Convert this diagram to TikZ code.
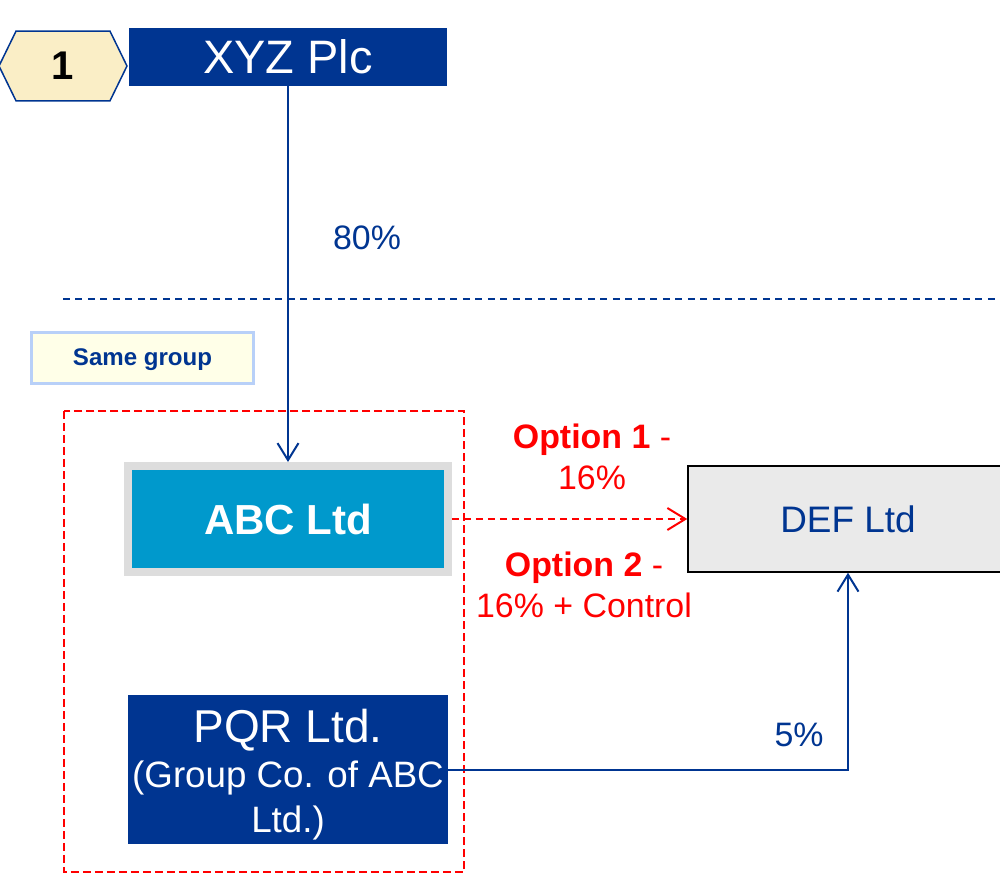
\documentclass[tikz,border=0pt]{standalone}
\usepackage{fontspec}
\setmainfont{Liberation Sans}
\usepackage{xcolor}
\usetikzlibrary{shapes.symbols, arrows.meta, positioning}

\definecolor{navy}{HTML}{003591}
\definecolor{abcblue}{HTML}{0099CC}
\definecolor{framegray}{HTML}{DDDDDD}
\definecolor{defgray}{HTML}{EAEAEA}
\definecolor{hexfill}{HTML}{FAEEC6}
\definecolor{notefill}{HTML}{FFFFE8}
\definecolor{noteline}{HTML}{B8D0F8}

\begin{document}
\begin{tikzpicture}
  [
    x=0.02cm, y=-0.02cm,
    Hex/.style={shape=signal, signal to=west and east, signal pointer angle=128, draw=navy, fill=hexfill, line width=0.03cm, minimum width=2.56cm, minimum height=1.4cm, inner sep=0pt, font=\fontsize{22.8pt}{27pt}\selectfont\bfseries},
    Navy/.style={rectangle, fill=navy, text=white, minimum width=6.38cm, inner sep=0pt},
    Teal/.style={rectangle, draw=framegray, line width=0.16cm, fill=abcblue, text=white, minimum width=6.4cm, minimum height=2.12cm, font=\fontsize{23.9pt}{28pt}\selectfont\bfseries},
    Gray/.style={rectangle, draw=black, line width=0.03cm, fill=defgray, text=navy, minimum width=6.4cm, minimum height=2.12cm, font=\fontsize{21pt}{25pt}\selectfont},
    Note/.style={rectangle, draw=noteline, line width=0.06cm, fill=notefill, text=navy, minimum width=4.44cm, minimum height=1.02cm, text height=0.88em, text depth=0pt, font=\fontsize{13.7pt}{16pt}\selectfont\bfseries},
    Pct/.style={text=navy, inner sep=0pt, font=\fontsize{19.3pt}{23.3pt}\selectfont},
    Opt/.style={text=red, align=center, inner sep=0pt, font=\fontsize{19.3pt}{23.3pt}\selectfont},
    Link/.style={draw=navy, line width=0.04cm, -{Straight Barb[length=0.34cm, width=0.42cm]}},
    Dash/.style={draw=red, line width=0.04cm, dash pattern=on 0.14cm off 0.1cm, -{Straight Barb[length=0.36cm, width=0.44cm]}},
    Group/.style={draw=red, line width=0.04cm, dash pattern=on 0.16cm off 0.08cm},
    Sep/.style={draw=navy, line width=0.04cm, dash pattern=on 0.14cm off 0.11cm}
  ]
  \useasboundingbox (0,0) rectangle (1000,874);

  % Nodes
  \node[Hex] (one) at (63,66) {1};
  \node[Navy, minimum height=1.16cm, font=\fontsize{26.7pt}{31pt}\selectfont] (xyz) at (288,57) {XYZ Plc};
  \node[Note] (same) at (142.5,358) {Same group};
  \node[Teal] (abc) at (288,519) {ABC Ltd};
  \node[Gray] (def) at (848,519) {DEF Ltd};
  \node[Navy, minimum width=6.4cm, minimum height=2.98cm, align=center, font=\fontsize{20.9pt}{25.6pt}\selectfont] (pqr) at (288,769.5)
    {{\fontsize{26.2pt}{25.6pt}\selectfont\rule{0pt}{25pt}PQR Ltd.}\\(Group Co. of ABC\\Ltd.)};

  % Labels
  \node[Pct] (p80) at (367,238) {80\%};
  \node[Pct] (p5) at (799,735) {5\%};
  \node[Opt] (opt1) at (592,457) {\textbf{Option 1} -\\16\%};
  \node[Opt] (opt2) at (584,585) {\textbf{Option 2} -\\16\% + Control};

  % Dividers
  \coordinate (sepL) at (63,299);
  \coordinate (sepR) at (1010,299);
  \path [Sep] (sepL) -- (sepR);
  \path [Group] (64,411) rectangle (464,872);

  % Lines
  \path [Link] (xyz.south) -- (abc.north);
  \path [Dash] (abc.east) -- (def.west);
  \path [Link] (pqr.east) -| (def.south);

\end{tikzpicture}
\end{document}
